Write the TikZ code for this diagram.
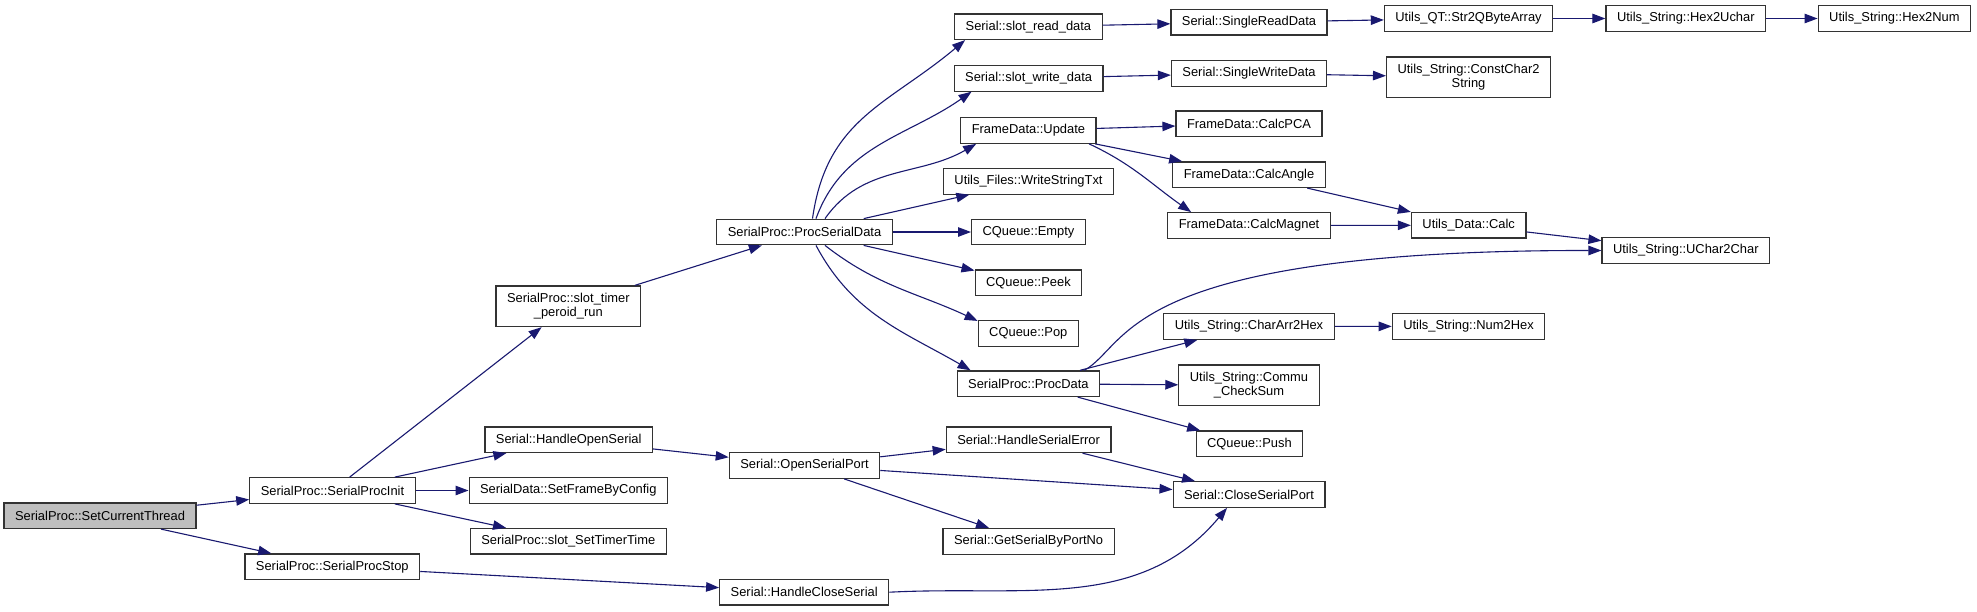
\documentclass[tikz,border=0pt]{standalone}
\usepackage{fontspec}
\setmainfont{Liberation Sans}
\usepackage{xcolor}
\usepackage{tikz}
\usetikzlibrary{arrows.meta}
\definecolor{linkblue}{HTML}{191970}
\definecolor{rootgray}{HTML}{BFBFBF}
\definecolor{boxline}{HTML}{333333}

\begin{document}
\begin{tikzpicture}[
  x=1pt,y=1pt,
  fn/.style={draw=boxline,line width=1.2pt,fill=white,inner xsep=11pt,inner ysep=3pt,
    minimum height=25.6pt,align=center,font=\fontsize{12.9}{14.5}\selectfont},
  twoline/.style={minimum height=40.6pt},
  link/.style={draw=linkblue,line width=1.1pt,-{Triangle[length=13pt,width=9.5pt]}},
  every edge/.style={link}
]
\path[fill=white,use as bounding box] (0,0) rectangle (1977,-611);
% callers on the left
\node[fn,fill=rootgray] (sct) at (100,-515.7) {SerialProc::SetCurrentThread};
\node[fn] (init) at (332.5,-490.5) {SerialProc::SerialProcInit};
\node[fn] (stop) at (332.3,-566.7) {SerialProc::SerialProcStop};
\node[fn,twoline] (timer) at (568.3,-306.3) {SerialProc::slot\_timer\\\_peroid\_run};
\node[fn] (hos) at (568.7,-439.7) {Serial::HandleOpenSerial};
\node[fn] (sfbc) at (568.3,-490.5) {SerialData::SetFrameByConfig};
\node[fn] (sstt) at (568.3,-541.2) {SerialProc::slot\_SetTimerTime};
\node[fn] (psd) at (804.5,-232) {SerialProc::ProcSerialData};
\node[fn] (osp) at (804.5,-465.5) {Serial::OpenSerialPort};
\node[fn] (hcs) at (804.2,-592.2) {Serial::HandleCloseSerial};
% middle column
\node[fn] (srd) at (1028.4,-26.7) {Serial::slot\_read\_data};
\node[fn] (swd) at (1028.6,-78.3) {Serial::slot\_write\_data};
\node[fn] (upd) at (1028.4,-130.5) {FrameData::Update};
\node[fn] (wst) at (1028.5,-181.3) {Utils\_Files::WriteStringTxt};
\node[fn] (emp) at (1028.5,-232) {CQueue::Empty};
\node[fn] (peek) at (1028.4,-282.7) {CQueue::Peek};
\node[fn] (pop) at (1028.3,-333.3) {CQueue::Pop};
\node[fn] (pd) at (1028.4,-383.7) {SerialProc::ProcData};
\node[fn] (hse) at (1028.6,-439.8) {Serial::HandleSerialError};
\node[fn] (gsp) at (1028.6,-541.3) {Serial::GetSerialByPortNo};
\node[fn] (srda) at (1249,-22.2) {Serial::SingleReadData};
\node[fn] (swda) at (1249,-73.3) {Serial::SingleWriteData};
\node[fn] (pca) at (1249,-123.8) {FrameData::CalcPCA};
\node[fn] (ang) at (1249,-174.7) {FrameData::CalcAngle};
\node[fn] (mag) at (1249,-225.5) {FrameData::CalcMagnet};
\node[fn] (cah) at (1249,-326.5) {Utils\_String::CharArr2Hex};
\node[fn,twoline] (cks) at (1249,-385.3) {Utils\_String::Commu\\\_CheckSum};
\node[fn] (push) at (1249.4,-443.8) {CQueue::Push};
\node[fn] (csp) at (1249,-494.5) {Serial::CloseSerialPort};
% utilities on the right
\node[fn] (s2q) at (1468.5,-18.5) {Utils\_QT::Str2QByteArray};
\node[fn,twoline] (cc2s) at (1468.5,-77.3) {Utils\_String::ConstChar2\\String};
\node[fn] (calc) at (1468.7,-225.2) {Utils\_Data::Calc};
\node[fn] (n2h) at (1468.5,-326.3) {Utils\_String::Num2Hex};
\node[fn] (h2u) at (1685.8,-18.5) {Utils\_String::Hex2Uchar};
\node[fn] (uc2c) at (1685.8,-250.5) {Utils\_String::UChar2Char};
\node[fn] (h2n) at (1894.4,-18.5) {Utils\_String::Hex2Num};

\path (sct) edge (init)
      (sct) edge (stop)
      (init) edge (timer)
      (init) edge (hos)
      (init) edge (sfbc)
      (init) edge (sstt)
      (stop) edge (hcs)
      (timer) edge (psd)
      (hos) edge (osp)
      (psd) edge (wst)
      (psd) edge (emp)
      (psd) edge (peek)
      (osp) edge (hse)
      (osp) edge (csp)
      (osp) edge (gsp)
      (hse) edge (csp)
      (srd) edge (srda)
      (swd) edge (swda)
      (upd) edge (pca)
      (upd) edge (ang)
      (pd) edge (cah)
      (pd) edge (cks)
      (pd) edge (push)
      (ang) edge (calc)
      (mag) edge (calc)
      (calc) edge (uc2c)
      (cah) edge (n2h)
      (srda) edge (s2q)
      (swda) edge (cc2s)
      (s2q) edge (h2u)
      (h2u) edge (h2n);
% curved calls
\draw[link] ([xshift=8pt]psd.north) to[out=82,in=-140,looseness=1.1] ([xshift=11pt]srd.south west);
\draw[link] ([xshift=11.5pt]psd.north) to[out=70,in=-145] ([xshift=18pt]swd.south west);
\draw[link] ([xshift=20.5pt]psd.north) to[out=55,in=-150] ([xshift=16pt]upd.south west);
\draw[link] ([xshift=20.5pt]psd.south) to[out=-38,in=155] ([yshift=-1pt]pop.north west);
\draw[link] ([xshift=11.5pt]psd.south) to[out=-62,in=150] ([xshift=14pt]pd.north west);
\draw[link] ([xshift=-7.5pt]upd.south east) to[out=-25,in=145] ([xshift=24pt]mag.north west);
\draw[link] ([xshift=-16pt]pd.north east) .. controls +(46pt,25pt) and +(-482pt,0.5pt) .. (uc2c.west);
\draw[link] (hcs.east) to[out=3,in=-130] ([xshift=-22pt]csp.south);
\end{tikzpicture}
\end{document}
